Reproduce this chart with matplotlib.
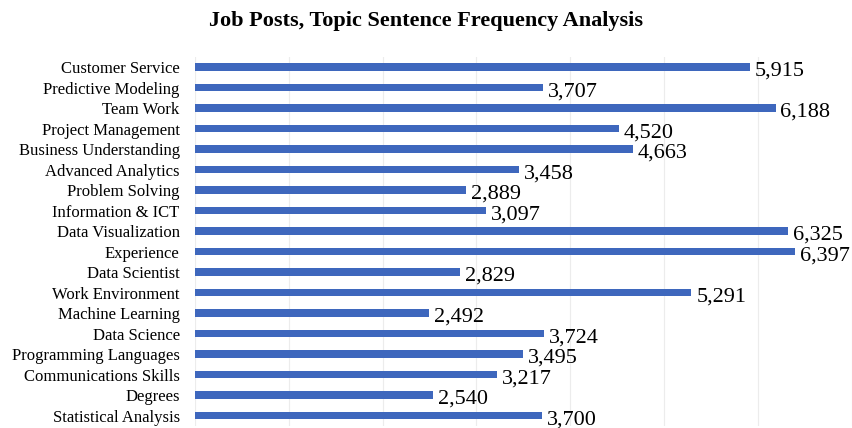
import matplotlib.pyplot as plt

# Data (top to bottom as shown)
topics = ['Customer Service', 'Predictive Modeling', 'Team Work', 'Project Management',
          'Business Understanding', 'Advanced Analytics', 'Problem Solving', 'Information & ICT',
          'Data Visualization', 'Experience', 'Data Scientist', 'Work Environment',
          'Machine Learning', 'Data Science', 'Programming Languages', 'Communications Skills',
          'Degrees', 'Statistical Analysis']
counts = [5915, 3707, 6188, 4520, 4663, 3458, 2889, 3097, 6325, 6397, 2829, 5291,
          2492, 3724, 3495, 3217, 2540, 3700]

plt.rcParams['font.family'] = ['Liberation Serif', 'DejaVu Serif']

fig = plt.figure(figsize=(8.53, 4.28), dpi=100)
ax = fig.add_axes([0.2286, 0.005, 0.77, 0.862])

pos = list(range(len(topics)))[::-1]
ax.barh(pos, counts, height=0.36, color='#3e67bd')

# Value labels
for p, c in zip(pos, counts):
    ax.annotate(f'{c:,}', (c, p), xytext=(3.5, -3), textcoords='offset points',
                ha='left', va='center', fontsize=16)

ax.set_yticks(pos)
ax.set_yticklabels(topics, fontsize=12)
ax.set_xlim(0, 7000)
ax.set_ylim(-0.5, len(topics) - 0.5)
ax.set_xticks(range(0, 7001, 1000))
ax.set_xticklabels([])
ax.tick_params(length=0, pad=11)
ax.grid(axis='x', color='#ececec', linewidth=0.8)
ax.set_axisbelow(True)
for s in ax.spines.values():
    s.set_visible(False)

fig.suptitle('Job Posts, Topic Sentence Frequency Analysis', x=0.5, y=0.975,
             fontsize=16, fontweight='bold')

fig.savefig('out.png', dpi=100)
